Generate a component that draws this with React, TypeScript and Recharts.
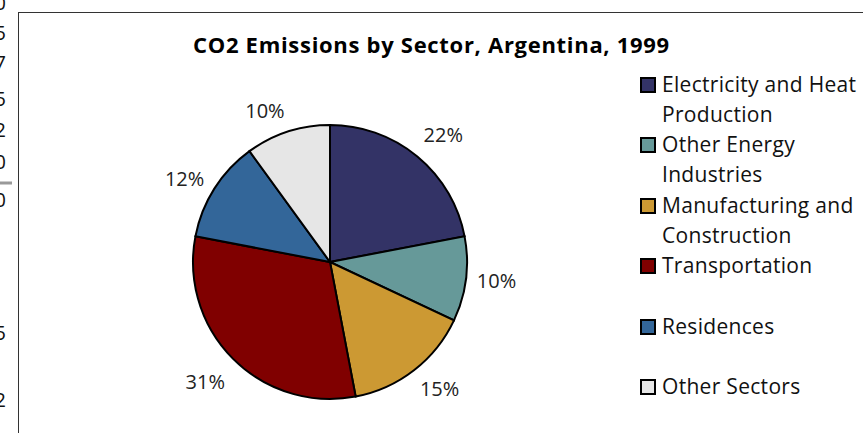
import { PieChart, Pie, Cell, Legend } from 'recharts';

const sectors = [
  'Electricity and Heat Production',
  'Other Energy Industries',
  'Manufacturing and Construction',
  'Transportation',
  'Residences',
  'Other Sectors',
];
// legend lines as they wrap in the original
const legendLines = [
  ['Electricity and Heat', 'Production'],
  ['Other Energy', 'Industries'],
  ['Manufacturing and', 'Construction'],
  ['Transportation'],
  ['Residences'],
  ['Other Sectors'],
];
const shares = [22, 10, 15, 31, 12, 10];
const colors = ['#333366', '#669999', '#CC9933', '#800000', '#336699', '#E6E6E6'];

// cut-off tick digits of the neighbouring chart at the left edge
const edgeDigits = ['0', '5', '7', '5', '2', '0', '0', '5', '2'];
const edgeDigitY = [2, 32, 62, 98, 129, 161, 199, 332, 399];

const data = sectors.map((name, i) => ({ name, value: shares[i] }));

const FONT = '"Open Sans", "Noto Sans", sans-serif';
const RAD = Math.PI / 180;

// excel-style outside labels: box corner sits just outside the slice
function renderLabel(props: any) {
  const { cx, cy, midAngle, value } = props;
  const r = 150;
  const dx = Math.cos(-midAngle * RAD);
  const dy = Math.sin(-midAngle * RAD);
  const px = cx + r * dx;
  const py = cy + r * dy;
  const right = dx >= 0;
  return (
    <text
      x={right ? px - 2 : px + 1}
      y={py + 13 * dy + (right ? -2 : 4)}
      textAnchor={right ? 'start' : 'end'}
      dominantBaseline="central"
      fill="#222"
      fontSize={20}
      fontFamily={FONT}
    >
      {`${value}%`}
    </text>
  );
}

function LegendBox() {
  return (
    <div style={{ fontFamily: FONT, fontSize: 21, letterSpacing: 0.3, color: '#111' }}>
      {legendLines.map((lines, i) => (
        <div key={i} style={{ position: 'relative', height: 60.4, paddingLeft: 22 }}>
          <span
            style={{
              position: 'absolute', left: 0, top: 8, width: 12, height: 12,
              background: colors[i], border: '2px solid #000',
            }}
          />
          {lines.map((t) => (
            <div key={t} style={{ lineHeight: '30px', whiteSpace: 'nowrap' }}>{t}</div>
          ))}
        </div>
      ))}
    </div>
  );
}

export default function App() {
  return (
    <div style={{ position: 'absolute', left: 0, top: 0, width: 863, height: 433, overflow: 'hidden', background: '#fff' }}>
      <svg width={20} height={433} style={{ position: 'absolute', left: 0, top: 0 }}>
        {edgeDigits.map((d, i) => (
          <text key={i} x={6} y={edgeDigitY[i]} textAnchor="end" dominantBaseline="central" fontSize={20} fontFamily={FONT} fill="#111">
            {d}
          </text>
        ))}
        <line x1={0} x2={12} y1={183} y2={183} stroke="#999" strokeWidth={3} />
      </svg>
      <div style={{ position: 'absolute', left: 18, top: 12, width: 900, height: 500, border: '1.5px solid #333' }} />
      <div
        style={{
          position: 'absolute', left: 193, top: 29, whiteSpace: 'nowrap', lineHeight: '30px',
          fontFamily: FONT, fontWeight: 700, fontSize: 22, letterSpacing: 0.7, color: '#000',
        }}
      >
        CO2 Emissions by Sector, Argentina, 1999
      </div>
      <PieChart
        width={863}
        height={433}
        margin={{ top: 0, right: 0, bottom: 0, left: 0 }}
        style={{ position: 'absolute', left: 0, top: 0 }}
      >
        <Pie
          data={data}
          dataKey="value"
          nameKey="name"
          cx={330}
          cy={262}
          outerRadius={137}
          startAngle={90}
          endAngle={-270}
          stroke="#000"
          strokeWidth={2}
          label={renderLabel}
          labelLine={false}
          isAnimationActive={false}
        >
          {data.map((d, i) => (
            <Cell key={d.name} fill={colors[i]} />
          ))}
        </Pie>
        <Legend
          content={() => <LegendBox />}
          wrapperStyle={{ position: 'absolute', left: 640, top: 69, width: 230 }}
        />
      </PieChart>
    </div>
  );
}
